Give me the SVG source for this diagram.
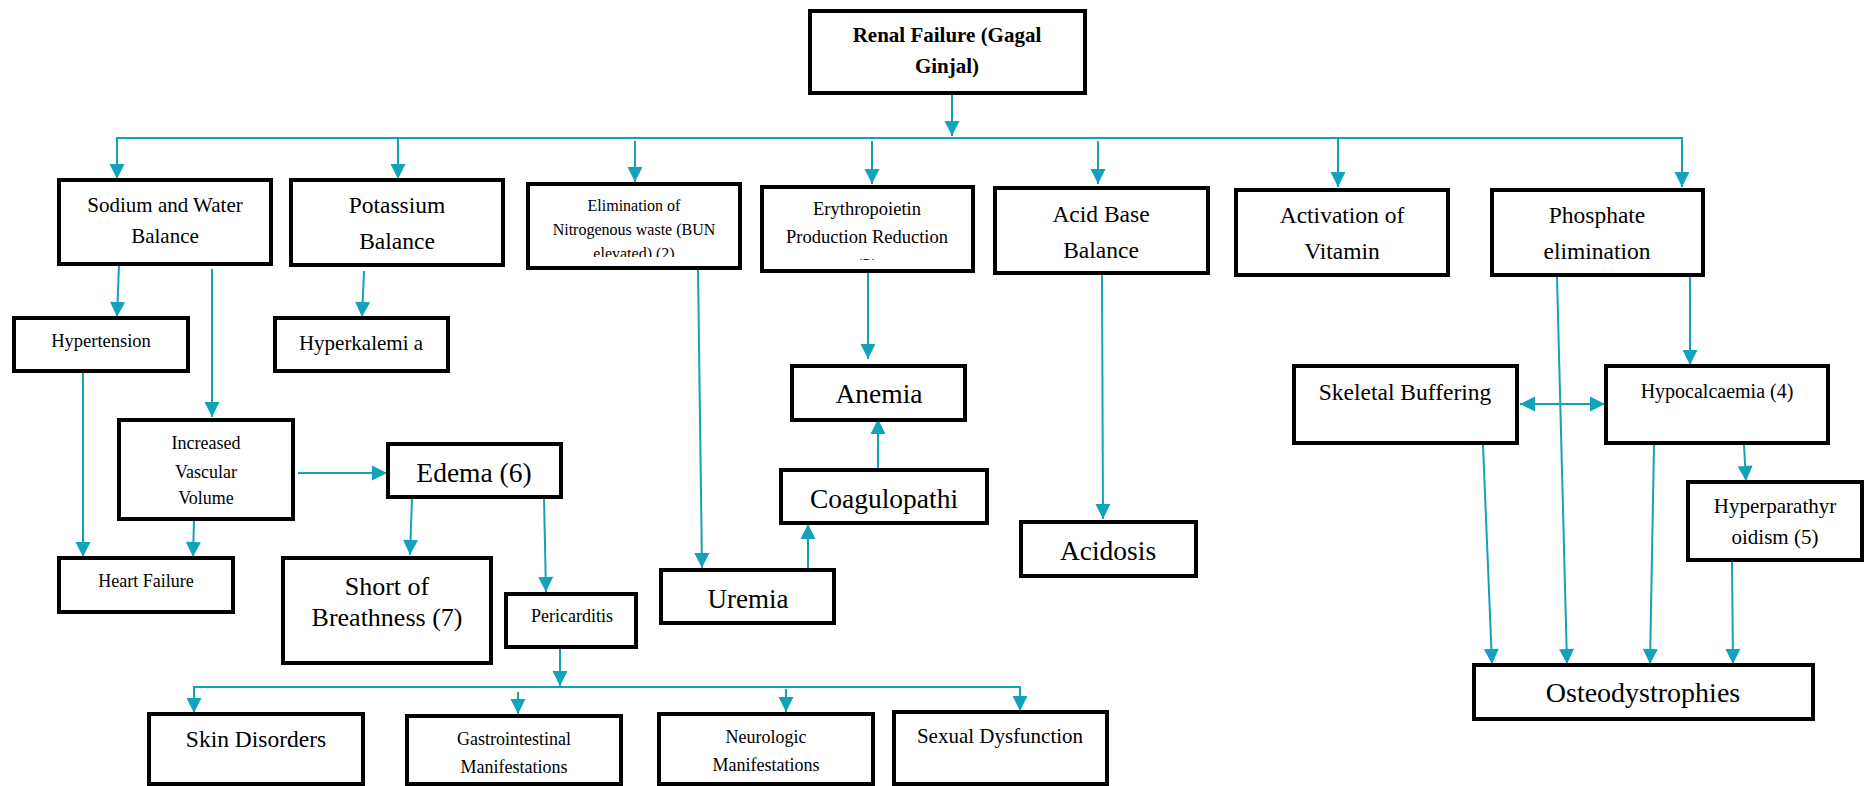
<svg xmlns="http://www.w3.org/2000/svg" width="1865" height="786" viewBox="0 0 1865 786">
  <defs>
    <marker id="head" markerUnits="userSpaceOnUse" markerWidth="16" markerHeight="16" viewBox="0 -8 15 16" refX="15" refY="0" orient="auto-start-reverse">
      <path d="M0,-7.5 L15,0 L0,7.5 z" fill="#10a3b9"/>
    </marker>
    <clipPath id="clipElim"><rect x="530" y="186" width="208" height="71"/></clipPath>
    <clipPath id="clipEry"><rect x="764" y="189" width="207" height="71"/></clipPath>
  </defs>
  <style>
    .box { fill: #ffffff; stroke: #000000; stroke-width: 4; }
    .t { font-family: "Liberation Serif", "Times New Roman", serif; fill: #000000; text-anchor: middle; }
    .b { font-weight: bold; }
    .link { fill: none; stroke: #10a3b9; stroke-width: 2; }
    .arr { marker-end: url(#head); }
    .both { marker-start: url(#head); marker-end: url(#head); }
  </style>
  <rect width="1865" height="786" fill="#ffffff"/>

  <!-- connectors -->
  <g id="connectors">
    <!-- main distribution bus -->
    <line class="link arr" x1="952" y1="93" x2="952" y2="136"/>
    <polyline class="link" points="117,179 117,138 1682,138 1682,187"/>
    <line class="link arr" x1="117" y1="138" x2="117" y2="179"/>
    <line class="link arr" x1="398" y1="138" x2="398" y2="179"/>
    <line class="link arr" x1="635" y1="141" x2="635" y2="182"/>
    <line class="link arr" x1="872" y1="141" x2="872" y2="184"/>
    <line class="link arr" x1="1098" y1="141" x2="1098" y2="184"/>
    <line class="link arr" x1="1338" y1="138" x2="1338" y2="187"/>
    <line class="link arr" x1="1682" y1="138" x2="1682" y2="187"/>

    <!-- sodium / potassium branch -->
    <line class="link arr" x1="119" y1="265" x2="117" y2="317"/>
    <line class="link arr" x1="212" y1="269" x2="212" y2="417"/>
    <line class="link arr" x1="364" y1="271" x2="362" y2="317"/>
    <line class="link arr" x1="83" y1="372" x2="83" y2="557"/>
    <line class="link arr" x1="194" y1="520" x2="193" y2="557"/>
    <line class="link arr" x1="298" y1="473" x2="387" y2="473"/>
    <line class="link arr" x1="412" y1="498" x2="410" y2="555"/>
    <line class="link arr" x1="544" y1="498" x2="546" y2="592"/>

    <!-- pericarditis fan-out -->
    <line class="link arr" x1="560" y1="648" x2="560" y2="686"/>
    <polyline class="link" points="194,714 194,687 1020,687 1020,711"/>
    <line class="link arr" x1="194" y1="687" x2="194" y2="713"/>
    <line class="link arr" x1="518" y1="692" x2="518" y2="714"/>
    <line class="link arr" x1="786" y1="689" x2="786" y2="712"/>
    <line class="link arr" x1="1020" y1="687" x2="1020" y2="711"/>

    <!-- nitrogenous waste / erythropoietin / acid base -->
    <line class="link arr" x1="698" y1="270" x2="702" y2="568"/>
    <line class="link arr" x1="808" y1="570" x2="808" y2="524"/>
    <line class="link arr" x1="878" y1="470" x2="878" y2="419"/>
    <line class="link arr" x1="868" y1="272" x2="868" y2="359"/>
    <line class="link arr" x1="1102" y1="275" x2="1103" y2="519"/>

    <!-- phosphate branch -->
    <line class="link arr" x1="1690" y1="277" x2="1690" y2="365"/>
    <line class="link arr" x1="1557" y1="277" x2="1567" y2="664"/>
    <line class="link both" x1="1520" y1="404" x2="1605" y2="404"/>
    <line class="link arr" x1="1744" y1="445" x2="1746" y2="481"/>
    <line class="link arr" x1="1483" y1="445" x2="1492" y2="664"/>
    <line class="link arr" x1="1654" y1="445" x2="1650" y2="664"/>
    <line class="link arr" x1="1732" y1="562" x2="1733" y2="664"/>
  </g>

  <!-- nodes -->
  <g id="n-root">
    <rect class="box" x="810" y="11" width="275" height="82"/>
    <text class="t b" x="947" y="42" font-size="21">Renal Failure (Gagal</text>
    <text class="t b" x="947" y="73" font-size="21">Ginjal)</text>
  </g>
  <g id="n-sodium">
    <rect class="box" x="59" y="180" width="212" height="84"/>
    <text class="t" x="165" y="212" font-size="21">Sodium and Water</text>
    <text class="t" x="165" y="243" font-size="21">Balance</text>
  </g>
  <g id="n-potassium">
    <rect class="box" x="291" y="180" width="212" height="85"/>
    <text class="t" x="397" y="213" font-size="23.5">Potassium</text>
    <text class="t" x="397" y="249" font-size="23.5">Balance</text>
  </g>
  <g id="n-elimination">
    <rect class="box" x="528" y="184" width="212" height="84"/>
    <text class="t" x="634" y="211" font-size="16">Elimination of</text>
    <text class="t" x="634" y="235" font-size="16">Nitrogenous waste (BUN</text>
    <text class="t" x="634" y="259" font-size="16" clip-path="url(#clipElim)">elevated) (2)</text>
  </g>
  <g id="n-erythropoietin">
    <rect class="box" x="762" y="187" width="211" height="84"/>
    <text class="t" x="867" y="215" font-size="18.5">Erythropoietin</text>
    <text class="t" x="867" y="243" font-size="18.5">Production Reduction</text>
    <text class="t" x="867" y="272" font-size="18.5" clip-path="url(#clipEry)">(3)</text>
  </g>
  <g id="n-acidbase">
    <rect class="box" x="995" y="188" width="213" height="85"/>
    <text class="t" x="1101" y="222" font-size="23.5">Acid Base</text>
    <text class="t" x="1101" y="258" font-size="23.5">Balance</text>
  </g>
  <g id="n-activation">
    <rect class="box" x="1236" y="190" width="212" height="85"/>
    <text class="t" x="1342" y="223" font-size="23.5">Activation of</text>
    <text class="t" x="1342" y="259" font-size="23.5">Vitamin</text>
  </g>
  <g id="n-phosphate">
    <rect class="box" x="1492" y="190" width="211" height="85"/>
    <text class="t" x="1597" y="223" font-size="23.5">Phosphate</text>
    <text class="t" x="1597" y="259" font-size="23.5">elimination</text>
  </g>
  <g id="n-hypertension">
    <rect class="box" x="14" y="318" width="174" height="53"/>
    <text class="t" x="101" y="347" font-size="18.5">Hypertension</text>
  </g>
  <g id="n-hyperkalemia">
    <rect class="box" x="275" y="318" width="173" height="53"/>
    <text class="t" x="361" y="350" font-size="21">Hyperkalemi a</text>
  </g>
  <g id="n-vascular">
    <rect class="box" x="119" y="420" width="174" height="99"/>
    <text class="t" x="206" y="449" font-size="18">Increased</text>
    <text class="t" x="206" y="478" font-size="18">Vascular</text>
    <text class="t" x="206" y="504" font-size="18">Volume</text>
  </g>
  <g id="n-heartfailure">
    <rect class="box" x="59" y="558" width="174" height="54"/>
    <text class="t" x="146" y="587" font-size="18">Heart Failure</text>
  </g>
  <g id="n-edema">
    <rect class="box" x="388" y="444" width="173" height="53"/>
    <text class="t" x="474" y="482" font-size="27.5">Edema (6)</text>
  </g>
  <g id="n-breath">
    <rect class="box" x="283" y="558" width="208" height="105"/>
    <text class="t" x="387" y="595" font-size="26">Short of</text>
    <text class="t" x="387" y="626" font-size="26">Breathness (7)</text>
  </g>
  <g id="n-pericarditis">
    <rect class="box" x="506" y="594" width="130" height="53"/>
    <text class="t" x="572" y="622" font-size="18">Pericarditis</text>
  </g>
  <g id="n-skin">
    <rect class="box" x="149" y="714" width="214" height="70"/>
    <text class="t" x="256" y="747" font-size="23.5">Skin Disorders</text>
  </g>
  <g id="n-gastro">
    <rect class="box" x="407" y="716" width="214" height="68"/>
    <text class="t" x="514" y="745" font-size="18">Gastrointestinal</text>
    <text class="t" x="514" y="773" font-size="18">Manifestations</text>
  </g>
  <g id="n-neuro">
    <rect class="box" x="659" y="714" width="214" height="70"/>
    <text class="t" x="766" y="743" font-size="18">Neurologic</text>
    <text class="t" x="766" y="771" font-size="18">Manifestations</text>
  </g>
  <g id="n-sexual">
    <rect class="box" x="894" y="712" width="213" height="72"/>
    <text class="t" x="1000" y="743" font-size="21">Sexual Dysfunction</text>
  </g>
  <g id="n-uremia">
    <rect class="box" x="661" y="570" width="173" height="53"/>
    <text class="t" x="748" y="608" font-size="27">Uremia</text>
  </g>
  <g id="n-coagulopathi">
    <rect class="box" x="781" y="470" width="206" height="53"/>
    <text class="t" x="884" y="508" font-size="27.5">Coagulopathi</text>
  </g>
  <g id="n-anemia">
    <rect class="box" x="792" y="366" width="173" height="54"/>
    <text class="t" x="879" y="403" font-size="27.5">Anemia</text>
  </g>
  <g id="n-acidosis">
    <rect class="box" x="1021" y="522" width="175" height="54"/>
    <text class="t" x="1108" y="560" font-size="27.5">Acidosis</text>
  </g>
  <g id="n-skeletal">
    <rect class="box" x="1294" y="366" width="223" height="77"/>
    <text class="t" x="1405" y="400" font-size="23.5">Skeletal Buffering</text>
  </g>
  <g id="n-hypocalcaemia">
    <rect class="box" x="1606" y="366" width="222" height="77"/>
    <text class="t" x="1717" y="398" font-size="20">Hypocalcaemia (4)</text>
  </g>
  <g id="n-hyperparathyroidism">
    <rect class="box" x="1688" y="482" width="174" height="78"/>
    <text class="t" x="1775" y="513" font-size="21">Hyperparathyr</text>
    <text class="t" x="1775" y="544" font-size="21">oidism (5)</text>
  </g>
  <g id="n-osteo">
    <rect class="box" x="1474" y="665" width="339" height="54"/>
    <text class="t" x="1643" y="702" font-size="28">Osteodystrophies</text>
  </g>
</svg>
